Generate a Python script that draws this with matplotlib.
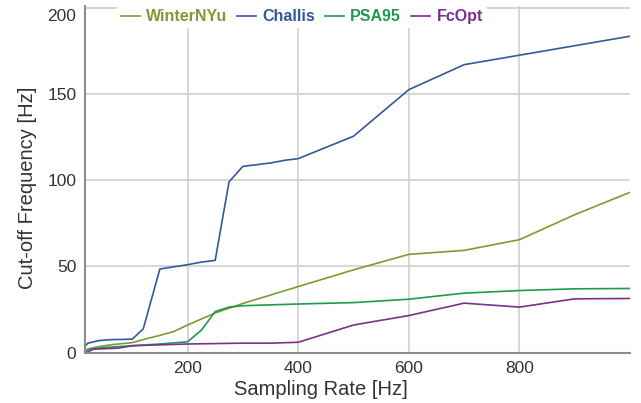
import matplotlib.pyplot as plt
import matplotlib.transforms as mtransforms

plt.rcParams["font.family"] = ["Liberation Sans", "DejaVu Sans"]

# --- data ---
winter_x = [14, 25, 40, 60, 100, 125, 150, 175, 200, 250, 300, 400, 500, 600, 700, 800, 900, 1000]
winter_y = [1.3, 2.5, 3.5, 4.5, 5.8, 8.0, 10.0, 12.2, 16.0, 23.0, 28.5, 38.3, 48.0, 57.0, 59.3, 65.5, 80.0, 93.0]

challis_x = [14, 20, 40, 60, 100, 120, 150, 200, 225, 250, 275, 300, 350, 375, 400, 500, 600, 700, 800, 900, 1000]
challis_y = [3.5, 5.5, 7.0, 7.5, 7.8, 13.8, 48.5, 51.0, 52.5, 53.5, 99.0, 108.0, 110.0, 111.5, 112.5, 125.5, 152.5, 167.0, 172.5, 178.0, 183.5]

psa_x = [14, 50, 100, 150, 200, 225, 250, 275, 300, 400, 500, 600, 700, 800, 900, 1000]
psa_y = [1.5, 3.0, 4.0, 5.0, 6.3, 13.0, 23.8, 26.4, 27.2, 28.2, 29.0, 31.0, 34.5, 36.0, 37.0, 37.2]

fcopt_x = [14, 20, 30, 75, 100, 200, 300, 350, 400, 500, 600, 700, 800, 900, 1000]
fcopt_y = [0.0, 0.5, 2.0, 2.6, 4.0, 5.0, 5.5, 5.5, 6.0, 16.0, 21.5, 28.7, 26.4, 31.2, 31.4]

series = [
    ("WinterNYu", winter_x, winter_y, "#7d9a34"),
    ("Challis", challis_x, challis_y, "#34589c"),
    ("PSA95", psa_x, psa_y, "#1f9a4f"),
    ("FcOpt", fcopt_x, fcopt_y, "#7c2f8e"),
]


def main():
    fig = plt.figure(figsize=(6.41, 4.03), dpi=100)
    ax = fig.add_axes([0.132, 0.125, 0.851, 0.86])

    for name, xs, ys, color in series:
        ax.plot(xs, ys, color=color, linewidth=1.2, label=name)

    ax.set_xlim(14, 1000)
    ax.set_ylim(0, 201)
    ax.set_xticks([200, 400, 600, 800])
    ax.set_yticks([0, 50, 100, 150, 200])
    ax.grid(True, color="#d0d0d0", linewidth=1.2)
    ax.set_axisbelow(True)
    ax.tick_params(length=0, labelsize=12.5, colors="#333333", pad=6)

    # top label sits a little below its grid line, as in the reference
    top_lbl = ax.get_yticklabels()[-1]
    top_lbl.set_transform(top_lbl.get_transform() +
                          mtransforms.ScaledTranslation(0, -7 / 100, fig.dpi_scale_trans))

    for s in ["top", "right"]:
        ax.spines[s].set_visible(False)
    for s in ["left", "bottom"]:
        ax.spines[s].set_color("#8c8c8c")
        ax.spines[s].set_linewidth(1.5)

    ax.set_xlabel("Sampling Rate [Hz]", fontsize=14.5, color="#333333")
    ax.set_ylabel("Cut-off Frequency [Hz]", fontsize=14.5, color="#333333")
    ax.xaxis.set_label_coords(0.434, -0.078)
    ax.yaxis.set_label_coords(-0.087, 0.475)

    leg = ax.legend(loc="upper left", bbox_to_anchor=(0.06, 1.0), ncol=4, frameon=True,
                    fontsize=11.5, handlelength=1.2, handletextpad=0.4, columnspacing=0.6,
                    borderpad=0.2, borderaxespad=0)
    leg.get_frame().set_edgecolor("white")
    leg.get_frame().set_facecolor("white")
    leg.get_frame().set_alpha(1)
    for text, (_, _, _, color) in zip(leg.get_texts(), series):
        text.set_color(color)
        text.set_fontweight("bold")

    fig.savefig("out.png", dpi=100)
    plt.close(fig)


if __name__ == "__main__":
    main()
